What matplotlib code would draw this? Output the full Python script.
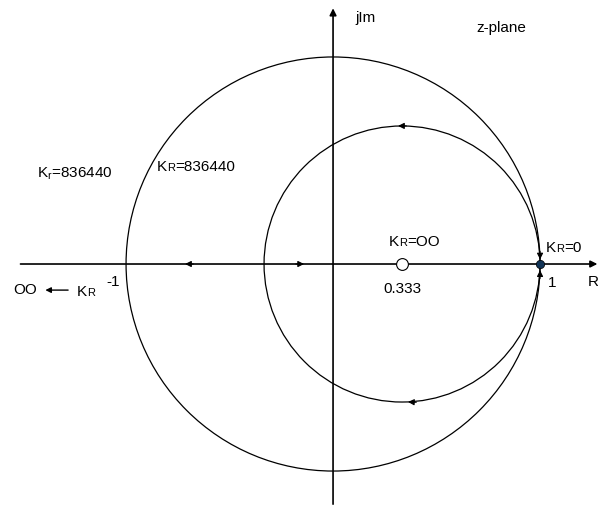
import matplotlib.pyplot as plt
from matplotlib.patches import Circle
from matplotlib.offsetbox import TextArea, HPacker, AnnotationBbox

plt.rcParams['font.family'] = ['Liberation Sans', 'DejaVu Sans']
plt.rcParams['mathtext.fontset'] = 'custom'
plt.rcParams['mathtext.rm'] = 'Liberation Sans'

# circles: (centre on real axis, radius)
unit_circle = (0.0, 1.0)
locus_circle = (1 / 3, 2 / 3)

# open-loop zero and pole
zero_re = [0.333]
pole_re = [1.0]

# direction arrows along the locus: (tip x, tip y, dx, dy)
arrow_tips = [
    (-0.715, 0.0, -1, 0),
    (-0.14, 0.0, 1, 0),
    (0.314, 0.667, -1, 0),
    (0.362, -0.666, -1, 0.05),
    (1.0, 0.022, 0, -1),
    (1.0, -0.03, 0, 1),
]

fig = plt.figure(figsize=(5.98, 5.06), dpi=100)
ax = fig.add_axes([0, 0, 1, 1])
ax.set_xlim(-1.609, 1.280)
ax.set_ylim(-1.164, 1.280)
ax.axis('off')

# axes of the z-plane
ax.annotate('', xy=(1.277, 0), xytext=(-1.51, 0),
            arrowprops=dict(arrowstyle='-|>', lw=1.2, color='black',
                            mutation_scale=10, shrinkA=0, shrinkB=0))
ax.annotate('', xy=(0, 1.235), xytext=(0, -1.16),
            arrowprops=dict(arrowstyle='-|>', lw=1.2, color='black',
                            mutation_scale=10, shrinkA=0, shrinkB=0))

for c, r in (unit_circle, locus_circle):
    ax.add_patch(Circle((c, 0), r, fill=False, lw=0.9, ec='black'))

for x, y, dx, dy in arrow_tips:
    ax.annotate('', xy=(x, y), xytext=(x - 0.04 * dx, y - 0.04 * dy),
                arrowprops=dict(arrowstyle='-|>', lw=0.8, color='black',
                                mutation_scale=9, shrinkA=0, shrinkB=0))

ax.plot(zero_re, [0], 'o', ms=8.5, mfc='white', mec='black', mew=0.8, zorder=5)
ax.plot(pole_re, [0], 'o', ms=6, mfc='#123456', mec='black', mew=0.5, zorder=5)

fs = 11


def k_label(x, y, sub, rest):
    box = HPacker(children=[TextArea('K', textprops=dict(size=fs)),
                            TextArea(sub, textprops=dict(size=8)),
                            TextArea(rest, textprops=dict(size=fs))],
                  align='baseline', pad=0, sep=0)
    ax.add_artist(AnnotationBbox(box, (x, y), frameon=False,
                                 box_alignment=(0, 0.5), pad=0))


ax.text(0.106, 1.193, 'jIm', fontsize=fs, va='center')
ax.text(0.691, 1.145, 'z-plane', fontsize=fs, va='center')
ax.text(-1.43, 0.44, r'K$_{\mathrm{r}}$=836440', fontsize=fs, va='center')
k_label(-0.85, 0.473, 'R', '=836440')
k_label(0.27, 0.111, 'R', '=OO')
k_label(1.029, 0.082, 'R', '=0')
k_label(-1.237, -0.13, 'R', '')
ax.text(-1.545, -0.121, 'OO', fontsize=fs, va='center')
ax.annotate('', xy=(-1.39, -0.126), xytext=(-1.28, -0.126),
            arrowprops=dict(arrowstyle='-|>', lw=1.0, color='black',
                            mutation_scale=8, shrinkA=0, shrinkB=0))
ax.text(-1.097, -0.082, '-1', fontsize=fs, va='center')
ax.text(0.242, -0.116, '0.333', fontsize=fs, va='center')
ax.text(1.039, -0.087, '1', fontsize=fs, va='center')
ax.text(1.232, -0.082, 'R', fontsize=fs, va='center')

fig.savefig('out.png', dpi=100)
